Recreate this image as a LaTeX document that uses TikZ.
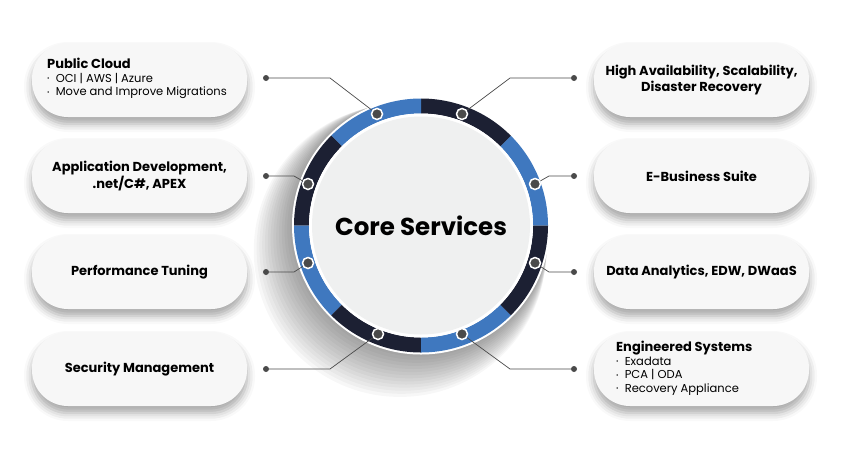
\documentclass[tikz,border=0pt]{standalone}
\usepackage{fontspec}
\setmainfont{Poppins}
\usetikzlibrary{shadows.blur}
\definecolor{ringblue}{HTML}{3F78BF}
\definecolor{ringdark}{HTML}{1C2033}
\definecolor{boxfill}{HTML}{F7F7F7}
\definecolor{diskfill}{HTML}{EFF0F0}
\definecolor{linec}{HTML}{4A4A4A}
\newcommand{\bul}{{\fontsize{6}{6}\selectfont\raisebox{1.3pt}{•}}\ \ }
\tikzset{
  pill/.style={rounded corners=36pt, fill=boxfill, minimum width=215pt, minimum height=74pt,
    blur shadow={shadow xshift=0pt, shadow yshift=-7pt, shadow blur radius=8pt, shadow opacity=35}},
  ttl/.style={font=\bfseries\fontsize{13}{15.5}\selectfont, align=center},
  lstnode/.style={anchor=north west, inner sep=0pt, align=left, font=\fontsize{11.5}{13.5}\selectfont},
  dot/.style={circle, fill=linec, draw=white, line width=1.5pt, inner sep=0pt, minimum size=11pt},
  edot/.style={circle, fill=linec, inner sep=0pt, minimum size=6pt},
  conn/.style={draw=linec, line width=0.7pt}
}
\begin{document}
\begin{tikzpicture}[x=1pt,y=-1pt]
\useasboundingbox (0,0) rectangle (842,450);
% boxes
\node[pill] (b1) at (139.5,80) {};
\node[pill] (b2) at (139.5,176) {};
\node[pill] (b3) at (139.5,272) {};
\node[pill] (b4) at (139.5,369) {};
\node[pill] (b5) at (701.5,80) {};
\node[pill] (b6) at (701.5,176) {};
\node[pill] (b7) at (701.5,272) {};
\node[pill] (b8) at (701.5,369) {};
\node[lstnode] (t1) at (47,58) {{\bfseries\fontsize{13}{15}\selectfont Public Cloud}\\
 \bul OCI | AWS | Azure\\
 \bul Move and Improve Migrations};
\node[ttl] (t2) at (139.5,176) {Application Development,\\.net/C\#, APEX};
\node[ttl] (t3) at (139.5,272) {Performance Tuning};
\node[ttl] (t4) at (139.5,369) {Security Management};
\node[ttl] (t5) at (701.5,80) {High Availability, Scalability,\\Disaster Recovery};
\node[ttl] (t6) at (701.5,176) {E-Business Suite};
\node[ttl] (t7) at (701.5,272) {Data Analytics, EDW, DWaaS};
\node[lstnode] (t8) at (616,341) {{\bfseries\fontsize{13}{15}\selectfont Engineered Systems}\\
 \bul Exadata\\
 \bul PCA | ODA\\
 \bul Recovery Appliance};
% circle shadow
\foreach \i in {1,...,14}{
  \fill[black, opacity=0.03] (421-\i*1.5,225.5+\i*1.8) circle (128+\i*1.3);
}
\fill[white] (421,225.5) circle (129);
% ring
\coordinate (c) at (421,225.5);
\foreach \a/\col in {0/ringblue,45/ringdark,90/ringblue,135/ringdark,180/ringblue,225/ringdark,270/ringblue,315/ringdark}{
  \fill[\col] (c) ++(-\a:127) arc[start angle=-\a, end angle=-\a-45, radius=127]
     -- ++(-\a-45:-15) arc[start angle=-\a-45, end angle=-\a, radius=112] -- cycle;
}
\fill[white] (c) circle (112);
\fill[diskfill] (c) circle (109);
\node[font=\bfseries\fontsize{24.5}{28}\selectfont] (core) at (c) {Core Services};
% dots on ring
\node[dot] (r1) at (377,114) {};
\node[dot] (r2) at (308,184) {};
\node[dot] (r3) at (308,263) {};
\node[dot] (r4) at (378,334) {};
\node[dot] (r5) at (462,114) {};
\node[dot] (r6) at (535,184) {};
\node[dot] (r7) at (535,263) {};
\node[dot] (r8) at (462,334) {};
% end dots
\node[edot] (e1) at (266,78) {};
\node[edot] (e2) at (266,176) {};
\node[edot] (e3) at (266,272) {};
\node[edot] (e4) at (266,369) {};
\node[edot] (e5) at (574,78) {};
\node[edot] (e6) at (574,176) {};
\node[edot] (e7) at (574,272) {};
\node[edot] (e8) at (574,369) {};
\draw[conn] (e1) -- (330,78) -- (r1);
\draw[conn] (e2) -- (294,176) -- (r2);
\draw[conn] (e3) -- (294,272) -- (r3);
\draw[conn] (e4) -- (330,369) -- (r4);
\draw[conn] (e5) -- (510,78) -- (r5);
\draw[conn] (e6) -- (549,176) -- (r6);
\draw[conn] (e7) -- (549,272) -- (r7);
\draw[conn] (e8) -- (510,369) -- (r8);
\end{tikzpicture}
\end{document}
